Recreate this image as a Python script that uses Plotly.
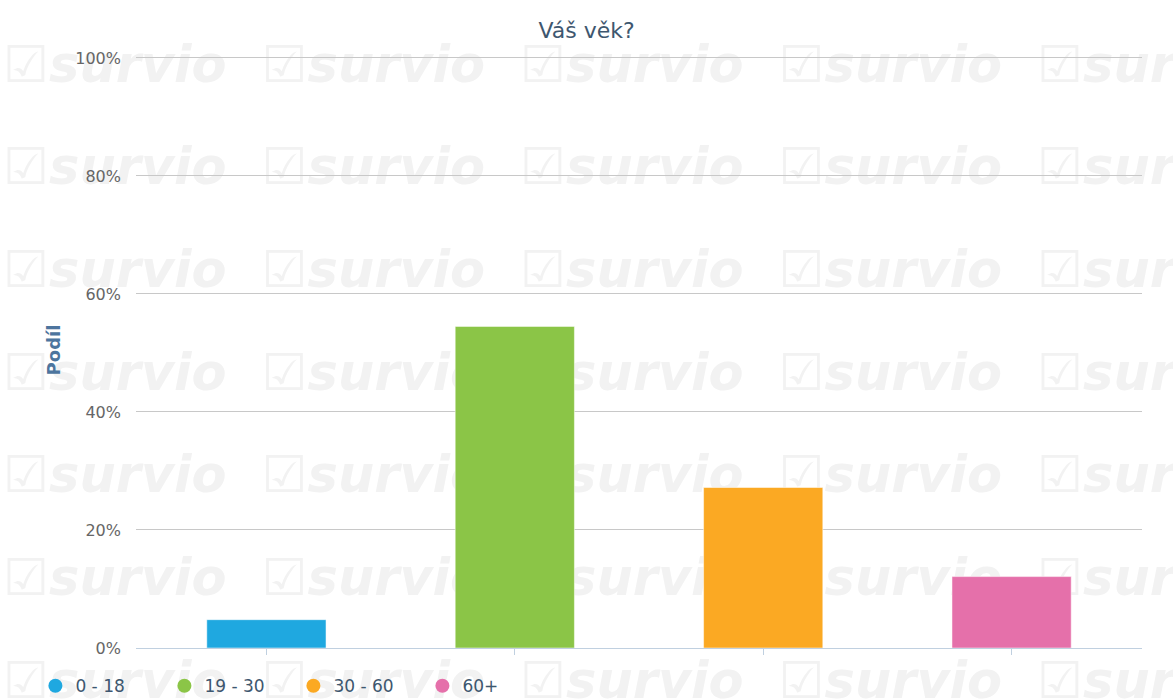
import plotly.graph_objects as go

# age groups and their share of respondents (%)
categories = ['0 - 18', '19 - 30', '30 - 60', '60+']
shares = [4.8, 54.5, 27.2, 12.1]
bar_colors = ['#1fa8e0', '#8bc547', '#fba923', '#e570aa']

y_ticks = [0, 20, 40, 60, 80, 100]

W, H = 1173, 700
L, R, T, B = 136, 31, 52, 52


def px_to_paper(px, py):
    return (px - L) / (W - L - R), (H - B - py) / (H - T - B)


fig = go.Figure()

fig.add_trace(go.Bar(
    x=categories,
    y=shares,
    width=0.48,
    marker=dict(color=bar_colors, line=dict(color='rgba(255,255,255,0.5)', width=1)),
    showlegend=False,
    hoverinfo='x+y',
))

# legend entries with round symbols
for name, color in zip(categories, bar_colors):
    fig.add_trace(go.Scatter(
        x=[None], y=[None], mode='markers', name=name,
        marker=dict(size=14, color=color, symbol='circle'),
    ))

# faint background watermark, tiled
for row in range(7):
    for col in range(5):
        cx = 115 + col * 258.5
        cy = 60 + row * 102.7
        x0, y0 = px_to_paper(cx - 110, cy + 30)
        x1, y1 = px_to_paper(cx + 110, cy - 30)
        fig.add_shape(
            type='rect', xref='paper', yref='paper',
            x0=x0, x1=x1, y0=y0, y1=y1,
            line=dict(width=0), fillcolor='rgba(0,0,0,0)',
            layer='below',
            label=dict(
                text='☑survio',
                textposition='middle center',
                font=dict(family='DejaVu Sans', size=51, color='#f2f2f2',
                          weight='bold', style='italic'),
            ),
        )

fig.update_layout(
    width=W, height=H,
    margin=dict(l=L, r=R, t=T, b=B, autoexpand=False),
    paper_bgcolor='white',
    plot_bgcolor='rgba(0,0,0,0)',
    font=dict(family='DejaVu Sans, sans-serif'),
    title=dict(
        text='Váš věk?', x=0.5, xref='container', xanchor='center',
        y=1 - 30 / H, yanchor='middle',
        font=dict(size=22, color='#3e576f'),
    ),
    barmode='overlay',
    showlegend=True,
    legend=dict(
        orientation='h', x=-0.1, y=-0.064, xanchor='left', yanchor='middle',
        font=dict(size=17, color='#3e576f'),
        entrywidth=84, entrywidthmode='pixels',
        bgcolor='rgba(0,0,0,0)',
    ),
)

fig.update_xaxes(
    range=[-0.525, 3.525],
    showgrid=False,
    showline=True, linecolor='#c0d0e0', linewidth=1,
    ticks='outside', ticklen=6, tickcolor='#c0d0e0',
    showticklabels=False,
    fixedrange=True,
)

fig.update_yaxes(
    range=[0, 101],
    tickvals=y_ticks,
    ticktext=[f'{v}%' for v in y_ticks],
    showgrid=True, gridcolor='#c8c8c8', gridwidth=1,
    zeroline=False,
    ticklabelstandoff=14,
    tickfont=dict(size=16, color='#666666'),
    title=dict(text='<b>Podíl</b>', standoff=9,
               font=dict(size=18, color='#4d759e')),
    fixedrange=True,
)

fig.write_html('out.html', config={'displayModeBar': False},
               post_script="document.body.style.margin='0';")
